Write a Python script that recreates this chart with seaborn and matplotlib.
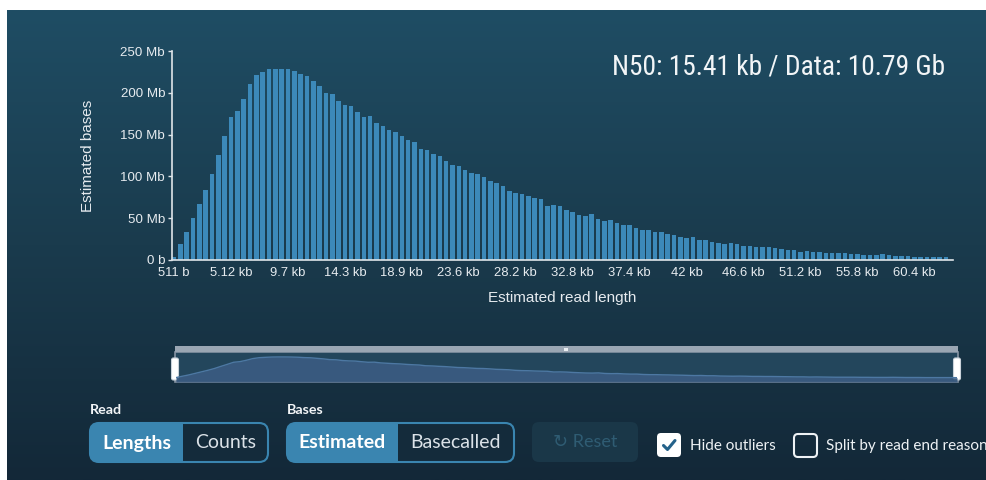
import matplotlib
matplotlib.use("Agg")
import matplotlib.pyplot as plt
from matplotlib.patches import FancyBboxPatch, Rectangle
from matplotlib.colors import LinearSegmentedColormap
import numpy as np
import pandas as pd
import seaborn as sns

# Estimated bases (Mb) per read-length bin (bins of ~512 b)
bases_mb = [
    4, 19, 33, 50, 67, 84, 103, 126, 148, 171,
    178, 193, 211, 221, 225, 228, 229, 229, 228, 226,
    222, 220, 214, 208, 200, 198, 190, 186, 184, 177,
    171, 172, 164, 160, 156, 153, 148, 144, 141, 133,
    131, 127, 124, 119, 114, 112, 108, 104, 103, 99,
    94, 92, 89, 83, 80, 79, 76, 74, 73, 65,
    66, 64, 60, 57, 54, 53, 55, 49, 47, 48,
    44, 42, 42, 38, 36, 36, 34, 33, 31, 30,
    28, 26, 27, 24, 24, 21, 20, 19, 20, 19,
    17, 17, 16, 16, 15, 14, 13, 12, 12, 10,
    11, 10, 9, 8, 8, 8, 8, 7, 7, 6,
    6, 6, 7, 6, 5, 5, 5, 4, 4, 4,
    4, 4, 3,
]
x_tick_labels = ["511 b", "5.12 kb", "9.7 kb", "14.3 kb", "18.9 kb", "23.6 kb",
                 "28.2 kb", "32.8 kb", "37.4 kb", "42 kb", "46.6 kb", "51.2 kb",
                 "55.8 kb", "60.4 kb"]
y_tick_values = [0, 50, 100, 150, 200, 250]
y_tick_labels = ["0 b", "50 Mb", "100 Mb", "150 Mb", "200 Mb", "250 Mb"]
summary_text = "N50: 15.41 kb / Data: 10.79 Gb"

df = pd.DataFrame({"bin": np.arange(len(bases_mb)), "bases": bases_mb})

W, H = 986, 480
fig = plt.figure(figsize=(W / 100, H / 100), dpi=100)
fig.patch.set_facecolor("white")

# Dark gradient panel
bg = fig.add_axes([7 / W, 0, (W - 7) / W, (H - 10) / H])
grad_cmap = LinearSegmentedColormap.from_list("panel", ["#1f4d64", "#1a3b4d", "#132838"])
bg.imshow(np.linspace(0, 1, 256).reshape(-1, 1), aspect="auto", cmap=grad_cmap,
          extent=[0, 1, 0, 1], origin="upper")
bg.set_axis_off()

FG = "#e6ebef"
BAR = "#3c89b9"
AX_FONT = ["Liberation Sans", "DejaVu Sans"]

# Main histogram
ax = fig.add_axes([172 / W, (H - 260) / H, (953 - 172) / W, (260 - 51) / H])
ax.set_facecolor("none")
sns.barplot(data=df, x="bin", y="bases", ax=ax, color=BAR, saturation=1,
            width=0.72, linewidth=0)
ax.set_xlim(-0.32, 123.1)
ax.set_ylim(0, 250)
ax.set_xticks(range(0, 9 * len(x_tick_labels), 9), x_tick_labels)
ax.set_yticks(y_tick_values, y_tick_labels)
for s in ("top", "right"):
    ax.spines[s].set_visible(False)
for s in ("left", "bottom"):
    ax.spines[s].set_color("#dfe5e9")
    ax.spines[s].set_linewidth(1.2)
ax.tick_params(axis="x", length=0, pad=5, colors=FG, labelsize=9.4)
ax.tick_params(axis="y", length=3, width=1, pad=2, colors="#dfe5e9",
               labelcolor=FG, labelsize=9.6)
for lab in ax.get_xticklabels() + ax.get_yticklabels():
    lab.set_family(AX_FONT)
ax.set_xlabel("Estimated read length", color=FG, fontsize=11, family=AX_FONT)
ax.set_ylabel("Estimated bases", color=FG, fontsize=11, family=AX_FONT)
ax.xaxis.set_label_coords(0.5, -0.148)
ax.yaxis.set_label_coords(-0.098, 0.50)

# Overlay in pixel coordinates for annotations and controls
ov = fig.add_axes([0, 0, 1, 1])
ov.set_xlim(0, W)
ov.set_ylim(H, 0)
ov.set_axis_off()
ov.set_facecolor("none")

ov.text(612, 67, summary_text, color="#f2f5f7", fontsize=19.8,
        family=["Roboto Condensed", "Roboto", "DejaVu Sans"], va="center", ha="left")

# Overview / range selector
ov.add_patch(Rectangle((175, 352), 783, 30, facecolor="#23465c", edgecolor="#8593a3", lw=1.2))
ov.add_patch(Rectangle((175, 346), 783, 6, facecolor="#9aa6b3", edgecolor="none"))
ov.add_patch(Rectangle((564, 347.5), 4, 3, facecolor="#e9eef2", edgecolor="none"))
mini = fig.add_axes([176 / W, (H - 382) / H, (957 - 176) / W, (382 - 353) / H])
mini.set_axis_off()
mini.set_facecolor("none")
mini.fill_between(df["bin"], df["bases"], -44, color="#3a5b80", alpha=0.95, lw=0)
sns.lineplot(data=df, x="bin", y="bases", ax=mini, color="#4d78a3", lw=1)
mini.set_xlim(0, len(bases_mb) - 1)
mini.set_ylim(-44, 272)
for hx in (171.5, 953.5):
    ov.add_patch(FancyBboxPatch((hx, 358), 7, 22, boxstyle="round,pad=0,rounding_size=2",
                                facecolor="white", edgecolor="#c9d2da", lw=0.8))

# Controls
UI_FONT = ["Lato", "DejaVu Sans"]
BLUE = "#3a85b0"
DARK = "#142b3b"


def toggle_group(x0, x_split, x1, label, active, inactive):
    y0, y1 = 423, 462
    ov.add_patch(FancyBboxPatch((x0, y0), x1 - x0, y1 - y0,
                                boxstyle="round,pad=0,rounding_size=9",
                                facecolor=BLUE, edgecolor="none"))
    ov.add_patch(FancyBboxPatch((x_split, y0), x1 - x_split, y1 - y0,
                                boxstyle="round,pad=0,rounding_size=9",
                                facecolor=DARK, edgecolor="none"))
    ov.add_patch(Rectangle((x_split, y0), 15, y1 - y0, facecolor=DARK, edgecolor="none"))
    ov.add_patch(FancyBboxPatch((x0, y0), x1 - x0, y1 - y0,
                                boxstyle="round,pad=0,rounding_size=9",
                                facecolor="none", edgecolor=BLUE, lw=1.5))
    ov.text(x0, 410, label, color="#f2f5f7", fontsize=10.3, fontweight="bold",
            family=UI_FONT, va="center", ha="left")
    ov.text((x0 + x_split) / 2, 443, active, color="white", fontsize=14,
            fontweight="bold", family=UI_FONT, va="center", ha="center")
    ov.text((x_split + x1) / 2, 443, inactive, color="#dbe2e8", fontsize=14,
            family=UI_FONT, va="center", ha="center")


toggle_group(90, 183, 268, "Read", "Lengths", "Counts")
toggle_group(287, 398, 514, "Bases", "Estimated", "Basecalled")

ov.add_patch(FancyBboxPatch((532, 422), 106, 40, boxstyle="round,pad=0,rounding_size=7",
                            facecolor="#1a3748", edgecolor="none"))
ov.text(585, 442, "\u21bb Reset", color="#2f5c73", fontsize=13, family=UI_FONT,
        va="center", ha="center")

ov.add_patch(FancyBboxPatch((657, 433), 24, 24, boxstyle="round,pad=0,rounding_size=4",
                            facecolor="white", edgecolor="none"))
ov.plot([663.5, 667.5, 675], [445.5, 449.5, 440.5], color="#24628a", lw=2.2,
        solid_capstyle="round", solid_joinstyle="round")
ov.text(690, 446, "Hide outliers", color="#eef2f5", fontsize=11, family=UI_FONT,
        va="center", ha="left")

ov.add_patch(FancyBboxPatch((794, 434), 23, 23, boxstyle="round,pad=0,rounding_size=4",
                            facecolor="none", edgecolor="#eef2f5", lw=1.5))
ov.text(826, 446, "Split by read end reason", color="#eef2f5", fontsize=11,
        family=UI_FONT, va="center", ha="left")

fig.savefig("out.png", dpi=100)
